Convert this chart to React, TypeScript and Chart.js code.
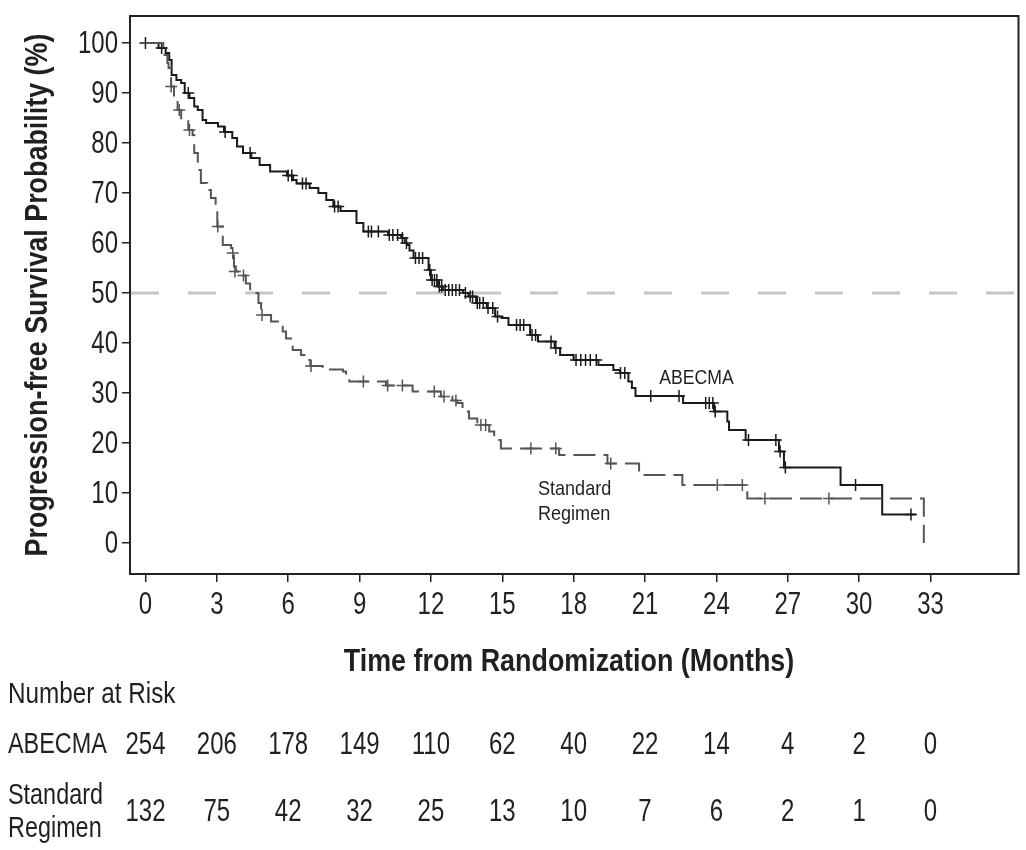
import React, { useEffect, useRef } from "react";
import { Chart, registerables } from "chart.js";

Chart.register(...registerables);

// ---- Data ----
const xTicks = [0, 3, 6, 9, 12, 15, 18, 21, 24, 27, 30, 33];
const yTicks = [0, 10, 20, 30, 40, 50, 60, 70, 80, 90, 100];
const riskAbecma = [254, 206, 178, 149, 110, 62, 40, 22, 14, 4, 2, 0];
const riskStandard = [132, 75, 42, 32, 25, 13, 10, 7, 6, 2, 1, 0];

const abecmaTime = [0, 0.55, 0.85, 1.0, 1.1, 1.3, 1.5, 1.65, 1.85, 2.05, 2.2, 2.4, 2.55, 3.05, 3.3, 3.65, 3.85, 4.1, 4.45, 4.8, 5.24, 5.95, 6.2, 6.35, 6.9, 7.27, 7.6, 7.9, 8.2, 8.87, 9.16, 10.2, 10.75, 10.9, 11.0, 11.1, 11.27, 11.9, 12.0, 12.3, 12.5, 13.35, 13.58, 13.9, 14.35, 14.7, 14.97, 15.26, 16.17, 16.5, 17.2, 17.43, 18.0, 19.04, 19.67, 19.95, 20.3, 20.45, 20.6, 22.6, 23.9, 24.46, 24.53, 25.23, 26.63, 26.84, 29.22, 30.97, 32.37];
const abecmaSurv = [100, 99, 98, 96.6, 93.6, 92.6, 92, 90, 89, 87.3, 86.6, 84.6, 84, 83.3, 82.2, 81, 79.3, 78, 77, 75.6, 74.3, 73.5, 72.6, 71.9, 71, 70, 68.6, 67.3, 66.4, 64, 62.3, 61.6, 61, 60, 59.6, 58.5, 57, 54.6, 52.6, 51.3, 50.6, 50, 49.3, 48, 47, 45.3, 45, 43.6, 41.6, 40.3, 39, 37.6, 36.6, 35.6, 34.6, 34, 32.3, 31, 29.4, 28, 26.3, 24.3, 22.6, 20.6, 18.3, 15.1, 11.6, 5.7, 5.7];
const abecmaCensorTime = [0, 0.68, 1.8, 3.35, 4.4, 6.0, 6.15, 6.6, 6.75, 7.95, 8.1, 9.37, 9.5, 9.79, 10.25, 10.4, 10.6, 10.8, 10.97, 11.35, 11.5, 11.65, 11.95, 12.05, 12.15, 12.25, 12.35, 12.45, 12.6, 12.75, 12.9, 13.05, 13.2, 13.45, 13.65, 13.75, 13.95, 14.05, 14.2, 14.4, 14.6, 14.8, 15.6, 15.75, 15.9, 16.25, 16.4, 17.05, 17.25, 18.1, 18.3, 18.5, 18.7, 18.95, 19.97, 20.15, 21.24, 22.43, 23.55, 23.7, 23.85, 23.95, 25.35, 26.5, 26.68, 26.9, 29.85, 32.18];
const abecmaCensorSurv = [100, 99, 90, 82.2, 78, 73.5, 73.5, 71.9, 71.9, 67.3, 67.3, 62.3, 62.3, 62.3, 61.6, 61.6, 61.6, 61, 60, 57, 57, 57, 54.6, 52.6, 52.6, 52.6, 51.3, 51.3, 50.6, 50.6, 50.6, 50.6, 50.6, 50, 49.3, 49.3, 48, 48, 48, 47, 47, 45.3, 43.6, 43.6, 43.6, 41.6, 41.6, 40.3, 39, 36.6, 36.6, 36.6, 36.6, 36.6, 34, 34, 29.4, 29.4, 28, 28, 28, 26.3, 20.6, 20.6, 18.3, 15.1, 11.6, 5.7];

const standardTime = [0, 0.75, 0.92, 0.97, 1.08, 1.2, 1.35, 1.5, 1.8, 1.98, 2.05, 2.2, 2.33, 2.6, 2.75, 2.95, 3.02, 3.25, 3.6, 3.72, 3.8, 4.1, 4.22, 4.4, 4.75, 4.86, 5.28, 5.77, 5.91, 6.12, 6.19, 6.54, 6.89, 6.93, 7.45, 8.3, 8.43, 8.57, 10.11, 11.23, 12.42, 12.9, 13.1, 13.33, 13.6, 13.95, 14.45, 14.66, 14.94, 17.39, 19.42, 20.75, 22.57, 25.3, 32.72, 32.72];
const standardSurv = [100, 97.6, 96, 95, 91.3, 89.3, 86.6, 84.6, 82.6, 81.6, 78, 74.6, 72, 70.6, 69, 66.6, 63.3, 59.6, 58, 55.3, 54.3, 53.5, 51.9, 50, 48, 45.6, 44.3, 42.3, 40.9, 39.6, 38.6, 37.6, 36.6, 35.4, 34.7, 34.3, 33.3, 32.3, 31.5, 30.3, 29.3, 28.5, 28, 26.3, 24.9, 23.6, 22.3, 20.6, 18.9, 17.6, 15.9, 13.6, 11.6, 8.9, 8.9, 0];
const standardCensorTime = [1.08, 1.42, 1.85, 3.04, 3.67, 3.76, 4.12, 4.9, 6.96, 9.16, 10.18, 10.8, 12.14, 12.55, 13.05, 14.1, 14.3, 16.2, 17.25, 19.56, 24.04, 25.09, 26.04, 28.73];
const standardCensorSurv = [91.3, 86.6, 82.6, 63.3, 58, 54.3, 53.5, 45.6, 35.4, 32.3, 31.5, 31.5, 30.3, 29.3, 28.5, 23.6, 23.6, 18.9, 18.9, 15.9, 11.6, 11.6, 8.9, 8.9];

const referenceLevel = 50;

const X_MIN = -0.65;
const X_MAX = 36.7;
const Y_MIN = -6.2;
const Y_MAX = 105.4;

const FONT = "'Liberation Sans', Arial, sans-serif";
const TEXT = "#231f20";

const toPts = (xs: number[], ys: number[]) => xs.map((x, i) => ({ x, y: ys[i] }));

function txt(
  ctx: CanvasRenderingContext2D,
  s: string,
  x: number,
  y: number,
  font: string,
  align: CanvasTextAlign,
  sx: number,
  rot = 0
) {
  ctx.save();
  ctx.font = font;
  ctx.textAlign = align;
  ctx.textBaseline = "middle";
  ctx.fillStyle = TEXT;
  ctx.translate(x, y);
  if (rot) ctx.rotate(rot);
  ctx.scale(sx, 1);
  ctx.fillText(s, 0, 0);
  ctx.restore();
}

export default function App() {
  const ref = useRef<HTMLCanvasElement | null>(null);

  useEffect(() => {
    if (!ref.current) return;

    const overlay = {
      id: "overlay",
      beforeDatasetsDraw(chart: any) {
        // horizontal reference line at the median level
        const ctx = chart.ctx as CanvasRenderingContext2D;
        const { left, right } = chart.chartArea;
        const y = chart.scales.y.getPixelForValue(referenceLevel);
        ctx.save();
        ctx.strokeStyle = "#c6c6c6";
        ctx.lineWidth = 3;
        ctx.setLineDash([28, 29]);
        ctx.beginPath();
        ctx.moveTo(left + 1, y);
        ctx.lineTo(right, y);
        ctx.stroke();
        ctx.restore();
      },
      afterDraw(chart: any) {
        const ctx = chart.ctx as CanvasRenderingContext2D;
        const { left, right, top, bottom } = chart.chartArea;
        const xs = chart.scales.x;
        const ys = chart.scales.y;
        ctx.save();
        // frame (top + right)
        ctx.strokeStyle = "#222";
        ctx.lineWidth = 2;
        ctx.beginPath();
        ctx.moveTo(left, top);
        ctx.lineTo(right, top);
        ctx.lineTo(right, bottom);
        ctx.stroke();
        ctx.restore();

        const tickFont = `32px ${FONT}`;
        // y tick labels
        yTicks.forEach((v) => {
          txt(ctx, String(v), left - 12, ys.getPixelForValue(v) + 1, tickFont, "right", 0.75);
        });
        // x tick labels
        xTicks.forEach((v) => {
          txt(ctx, String(v), xs.getPixelForValue(v), bottom + 31, tickFont, "center", 0.75);
        });

        // series labels
        const lab = `21px ${FONT}`;
        txt(ctx, "ABECMA", xs.getPixelForValue(21.6), ys.getPixelForValue(33), lab, "left", 0.84);
        txt(ctx, "Standard", xs.getPixelForValue(16.5), ys.getPixelForValue(10.8), lab, "left", 0.86);
        txt(ctx, "Regimen", xs.getPixelForValue(16.5), ys.getPixelForValue(5.8), lab, "left", 0.86);

        // axis titles
        const titleFont = `bold 32px ${FONT}`;
        txt(ctx, "Progression-free Survival Probability (%)", 38, (top + bottom) / 2, titleFont, "center", 0.84, -Math.PI / 2);
        txt(ctx, "Time from Randomization (Months)", 569, 662, titleFont, "center", 0.84);

        // risk table
        const rf = `30px ${FONT}`;
        const nf = `32px ${FONT}`;
        txt(ctx, "Number at Risk", 8, 695, rf, "left", 0.81);
        txt(ctx, "ABECMA", 8, 745, rf, "left", 0.78);
        txt(ctx, "Standard", 8, 796, rf, "left", 0.78);
        txt(ctx, "Regimen", 8, 829, rf, "left", 0.78);
        xTicks.forEach((t, i) => {
          const px = xs.getPixelForValue(t);
          txt(ctx, String(riskAbecma[i]), px, 745, nf, "center", 0.75);
          txt(ctx, String(riskStandard[i]), px, 812, nf, "center", 0.75);
        });
      },
    };

    const chart = new Chart(ref.current, {
      type: "line",
      data: {
        datasets: [
          {
            label: "Standard Regimen",
            data: toPts(standardTime, standardSurv),
            borderColor: "#555555",
            borderWidth: 2,
            borderDash: [22, 8],
            stepped: "before",
            pointRadius: 0,
          },
          {
            label: "Standard censored",
            data: toPts(standardCensorTime, standardCensorSurv),
            showLine: false,
            pointStyle: "cross",
            pointRadius: 6,
            borderColor: "#555555",
            borderWidth: 1.5,
          },
          {
            label: "ABECMA",
            data: toPts(abecmaTime, abecmaSurv),
            borderColor: "#1a1a1a",
            borderWidth: 2,
            stepped: "before",
            pointRadius: 0,
          },
          {
            label: "ABECMA censored",
            data: toPts(abecmaCensorTime, abecmaCensorSurv),
            showLine: false,
            pointStyle: "cross",
            pointRadius: 6,
            borderColor: "#1a1a1a",
            borderWidth: 1.5,
          },
        ] as any,
      },
      options: {
        responsive: false,
        animation: false,
        devicePixelRatio: 1,
        layout: { padding: { top: 16, right: 6, left: 0, bottom: 0 } },
        plugins: { legend: { display: false }, tooltip: { enabled: false } },
        scales: {
          x: {
            type: "linear",
            min: X_MIN,
            max: X_MAX,
            afterBuildTicks: (s: any) => {
              s.ticks = xTicks.map((v) => ({ value: v }));
            },
            afterFit: (s: any) => {
              s.height = 276;
            },
            grid: { drawOnChartArea: false, drawTicks: true, tickLength: 8, color: "#222", lineWidth: 1.5 },
            border: { display: true, color: "#222", width: 2 },
            ticks: { display: false },
          },
          y: {
            type: "linear",
            min: Y_MIN,
            max: Y_MAX,
            afterBuildTicks: (s: any) => {
              s.ticks = yTicks.map((v) => ({ value: v }));
            },
            afterFit: (s: any) => {
              s.width = 130;
            },
            grid: { drawOnChartArea: false, drawTicks: true, tickLength: 8, color: "#222", lineWidth: 1.5 },
            border: { display: true, color: "#222", width: 2 },
            ticks: { display: false },
          },
        },
      } as any,
      plugins: [overlay],
    });
    return () => chart.destroy();
  }, []);

  return (
    <div style={{ position: "absolute", left: 0, top: 0, width: 1026, height: 850, background: "#fff" }}>
      <canvas ref={ref} width={1026} height={850} style={{ display: "block" }} />
    </div>
  );
}
